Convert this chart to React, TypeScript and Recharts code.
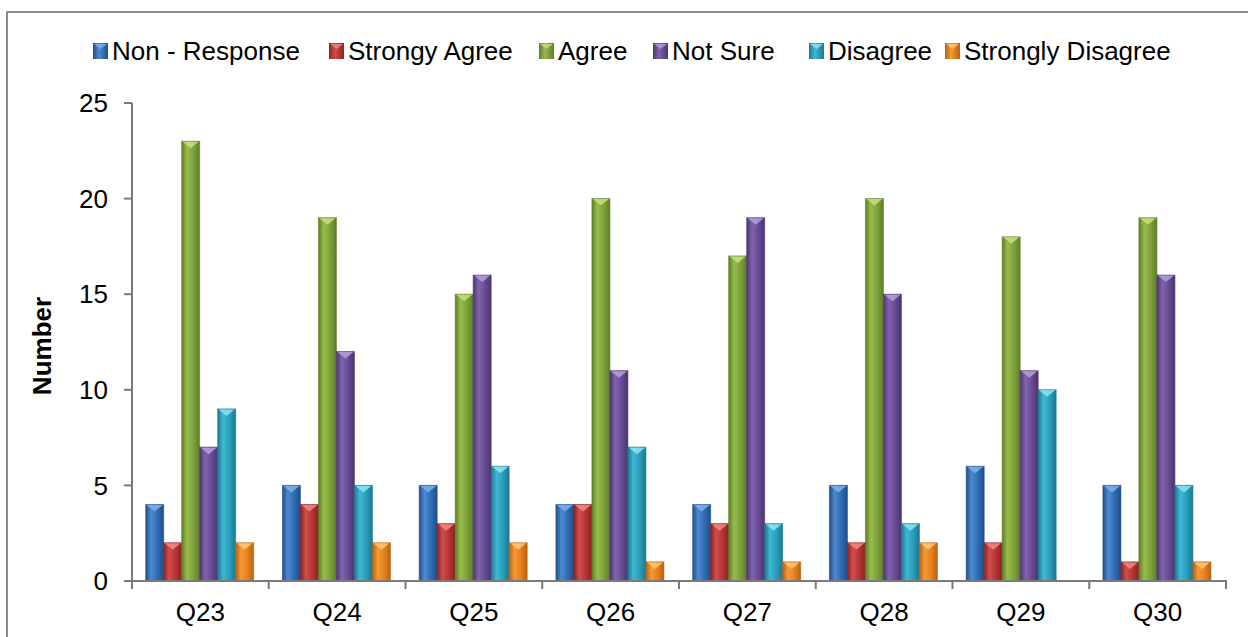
import React from "react";
import { BarChart, Bar, XAxis, YAxis } from "recharts";

const categories = ["Q23", "Q24", "Q25", "Q26", "Q27", "Q28", "Q29", "Q30"];
const nonResponse = [4, 5, 5, 4, 4, 5, 6, 5];
const stronglyAgree = [2, 4, 3, 4, 3, 2, 2, 1];
const agree = [23, 19, 15, 20, 17, 20, 18, 19];
const notSure = [7, 12, 16, 11, 19, 15, 11, 16];
const disagree = [9, 5, 6, 7, 3, 3, 10, 5];
const stronglyDisagree = [2, 2, 2, 1, 1, 2, 0, 1];
const yTicks = [0, 5, 10, 15, 20, 25];

const seriesDefs = [
  { key: "nr", name: "Non - Response", values: nonResponse, base: "#2F6CB4", light: "#4E8AD0", dark: "#1F4F8A", top: "#7FB0EA" },
  { key: "sa", name: "Strongy Agree", values: stronglyAgree, base: "#B83434", light: "#D24E4C", dark: "#8A2222", top: "#EE8A86" },
  { key: "ag", name: "Agree", values: agree, base: "#7EA23B", light: "#97BC4C", dark: "#5E7D28", top: "#C6E07E" },
  { key: "ns", name: "Not Sure", values: notSure, base: "#684B95", light: "#8064AE", dark: "#4C356F", top: "#B7A0DA" },
  { key: "di", name: "Disagree", values: disagree, base: "#2A9EBB", light: "#40B8D4", dark: "#1C7890", top: "#8EE4F6" },
  { key: "sd", name: "Strongly Disagree", values: stronglyDisagree, base: "#E5811E", light: "#F59A36", dark: "#B86212", top: "#FFC77E" },
];

// layout constants
const legendLeft = [93, 329, 539, 653, 809, 945];
const CHART_W = 1248;
const CHART_H = 637;
const MARGIN = { top: 103, right: 22, bottom: 26, left: 72 };
const Y_AXIS_W = 60;
const X_AXIS_H = 30;
const PLOT_X = MARGIN.left + Y_AXIS_W;
const PLOT_W = CHART_W - MARGIN.left - MARGIN.right - Y_AXIS_W;
const AXIS_Y = CHART_H - MARGIN.bottom - X_AXIS_H;

const data = categories.map((c, i) => {
  const row: any = { cat: c };
  seriesDefs.forEach((s) => {
    row[s.key] = s.values[i];
  });
  return row;
});

const FONT = "Arial, 'Liberation Sans', sans-serif";
const AXIS_GRAY = "#7A7A7A";

function makeShape(idx: number) {
  return (props: any) => {
    const { x, y, width, height } = props;
    if (!height || height <= 0) return <g />;
    const s = seriesDefs[idx];
    const bev = Math.min(7, height);
    return (
      <g>
        <rect x={x} y={y} width={width} height={height} fill={`url(#grad-${s.key})`} />
        <rect x={x} y={y} width={width} height={height} fill="none" stroke={s.dark} strokeOpacity={0.6} strokeWidth={1} />
        <polygon
          points={`${x + 1},${y + 0.5} ${x + width - 1},${y + 0.5} ${x + width / 2},${y + bev}`}
          fill={s.top}
          opacity={0.85}
        />
      </g>
    );
  };
}

const CatTick = (props: any) => {
  const { x, payload } = props;
  return (
    <text x={x} y={AXIS_Y + 22} dy="0.71em" textAnchor="middle" fill="#000" fontSize={26} fontFamily={FONT}>
      {payload.value}
    </text>
  );
};

export default function App() {
  const boundaries = [...categories.map((_, i) => i), categories.length];
  return (
    <div
      style={{
        position: "fixed",
        left: 0,
        top: 0,
        width: CHART_W,
        height: CHART_H,
        overflow: "hidden",
        background: "#fff",
      }}
    >
      <div
        style={{
          position: "absolute",
          left: 6,
          top: 11,
          width: 1300,
          height: 700,
          border: "2px solid #8C8C8C",
        }}
      />
      {seriesDefs.map((s, i) => (
        <div
          key={s.key}
          style={{
            position: "absolute",
            left: legendLeft[i],
            top: 34,
            height: 34,
            display: "flex",
            alignItems: "center",
            fontFamily: FONT,
            fontSize: 26,
            color: "#000",
            whiteSpace: "nowrap",
          }}
        >
          <svg width={15} height={16} style={{ marginRight: 4 }}>
            <defs>
              <linearGradient id={`lg-${s.key}`} x1="0" y1="0" x2="1" y2="0">
                <stop offset="0%" stopColor={s.dark} />
                <stop offset="40%" stopColor={s.light} />
                <stop offset="100%" stopColor={s.dark} />
              </linearGradient>
            </defs>
            <rect x={0} y={0} width={15} height={16} fill={`url(#lg-${s.key})`} />
            <polygon points="1,1 14,1 7.5,6" fill={s.top} opacity={0.8} />
          </svg>
          <span>{s.name}</span>
        </div>
      ))}
      <div
        style={{
          position: "absolute",
          left: 42,
          top: 346,
          transform: "translate(-50%, -50%) rotate(-90deg)",
          fontFamily: FONT,
          fontSize: 26,
          fontWeight: "bold",
          whiteSpace: "nowrap",
        }}
      >
        Number
      </div>
      <div style={{ position: "absolute", left: 0, top: 0 }}>
        <BarChart
          width={CHART_W}
          height={CHART_H}
          data={data}
          margin={MARGIN}
          barCategoryGap="10%"
          barGap={0}
        >
          <defs>
            {seriesDefs.map((s) => (
              <linearGradient key={s.key} id={`grad-${s.key}`} x1="0" y1="0" x2="1" y2="0">
                <stop offset="0%" stopColor={s.dark} />
                <stop offset="30%" stopColor={s.light} />
                <stop offset="65%" stopColor={s.base} />
                <stop offset="100%" stopColor={s.dark} />
              </linearGradient>
            ))}
          </defs>
          <XAxis
            dataKey="cat"
            height={X_AXIS_H}
            tickLine={false}
            tickSize={0}
            tickMargin={0}
            axisLine={{ stroke: AXIS_GRAY, strokeWidth: 2 }}
            tick={<CatTick />}
            interval={0}
          />
          <YAxis
            width={Y_AXIS_W}
            domain={[0, 25]}
            ticks={yTicks}
            interval={0}
            tickSize={8}
            tickMargin={16}
            axisLine={{ stroke: AXIS_GRAY, strokeWidth: 2 }}
            tickLine={{ stroke: AXIS_GRAY, strokeWidth: 2 }}
            tick={{ fill: "#000", fontSize: 26, fontFamily: FONT }}
          />
          {seriesDefs.map((s, i) => (
            <Bar
              key={s.key}
              dataKey={s.key}
              name={s.name}
              fill={s.base}
              isAnimationActive={false}
              shape={makeShape(i)}
            />
          ))}
        </BarChart>
      </div>
      <svg
        width={CHART_W}
        height={CHART_H}
        style={{ position: "absolute", left: 0, top: 0, pointerEvents: "none", zIndex: 5 }}
      >
        {boundaries.map((b) => {
          const bx = PLOT_X + (b * PLOT_W) / categories.length;
          return <rect key={b} x={bx - 1} y={AXIS_Y - 1} width={2} height={9} fill={AXIS_GRAY} />;
        })}
      </svg>
    </div>
  );
}
